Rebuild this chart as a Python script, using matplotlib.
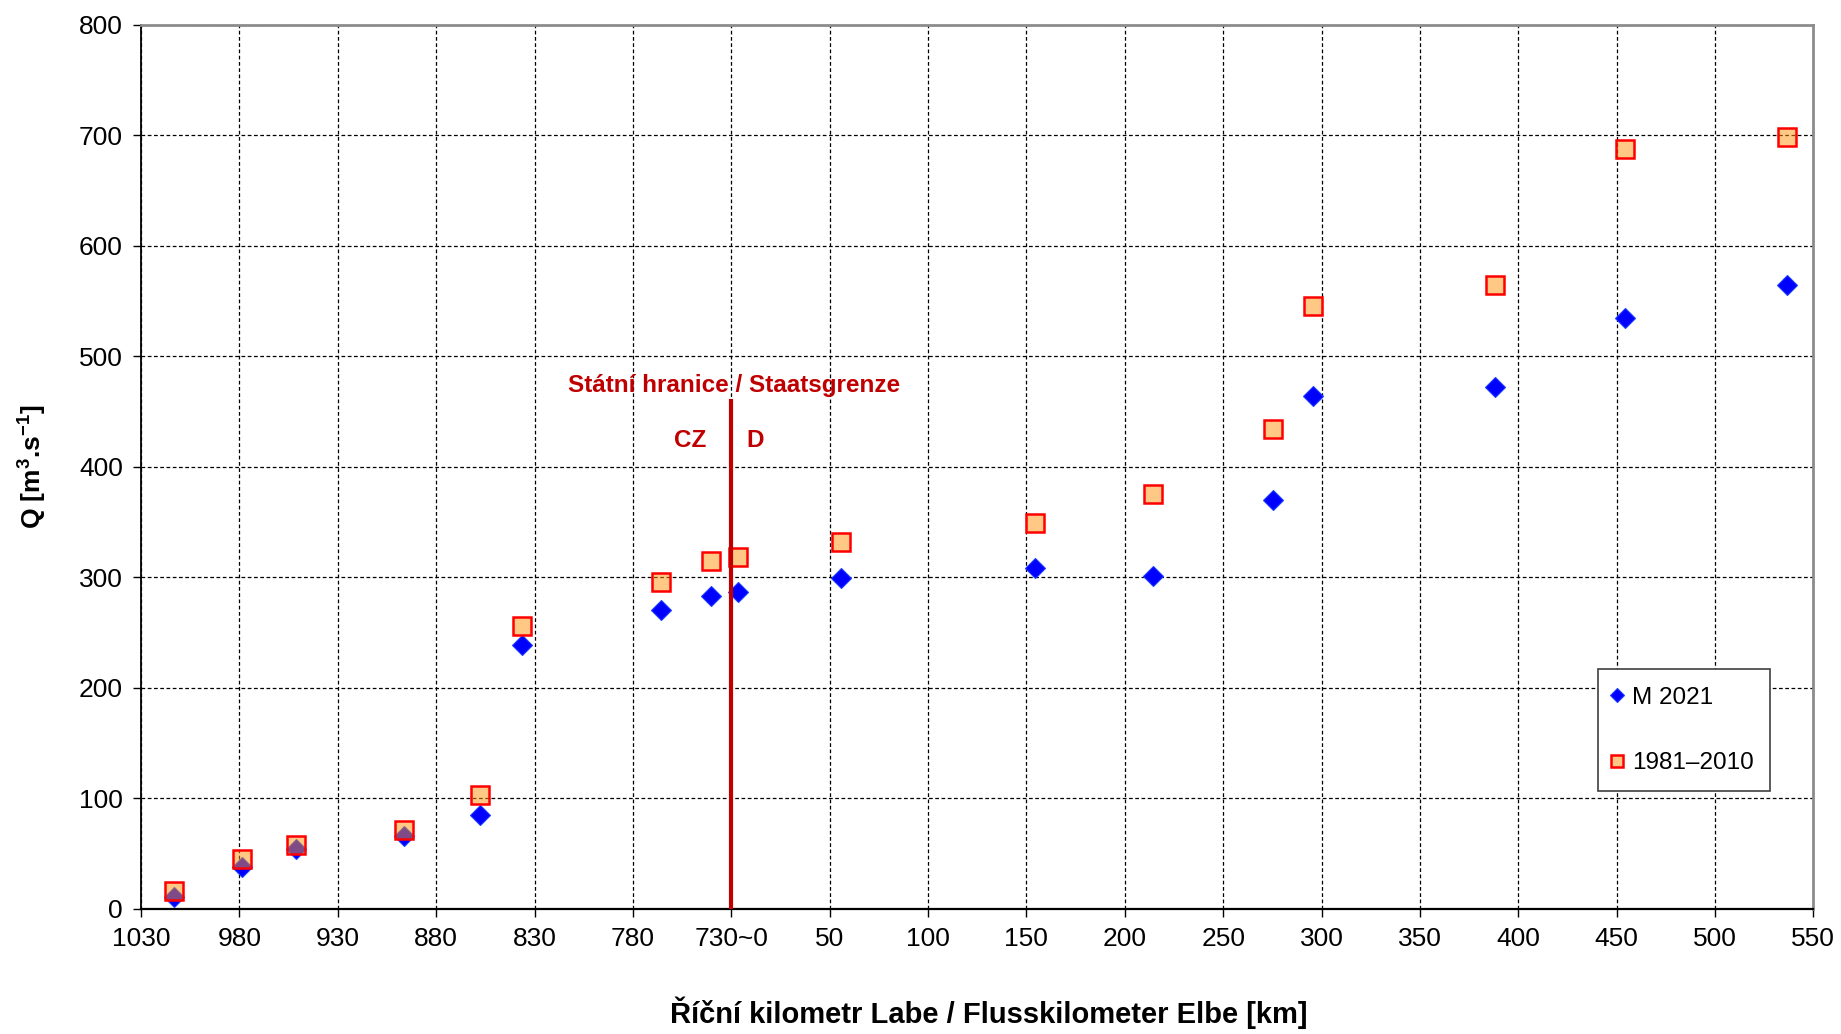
import matplotlib
matplotlib.use("Agg")
import matplotlib.pyplot as plt

plt.rcParams['font.family'] = ['Liberation Sans', 'DejaVu Sans']
plt.rcParams['mathtext.fontset'] = 'custom'
plt.rcParams['mathtext.rm'] = 'Liberation Sans:bold'
plt.rcParams['mathtext.bf'] = 'Liberation Sans:bold'

# Czech part (Labe km, counted downstream to the border at 730)
cz_km = [1013, 978.5, 951.3, 896.5, 857.5, 836.6, 765.8, 740.5]
# German part (Elbe km, from the border)
de_km = [3.4, 55.6, 154.5, 214.2, 275.3, 295.9, 388.2, 454.5, 536.8]

q_m2021 = [11, 38, 54, 66, 85, 239, 270.5, 283.5,
           286.5, 299.4, 308.7, 301.5, 370, 464, 472, 534.4, 564.3]
q_1981_2010 = [16.4, 45.5, 58, 71.5, 103, 256, 295.5, 315,
               318, 331.6, 349.6, 375, 433.8, 546, 564.8, 687.8, 698.5]

tick_labels = ['1030', '980', '930', '880', '830', '780', '730~0',
               '50', '100', '150', '200', '250', '300', '350', '400', '450', '500', '550']

cz_start = 1030
border_km = 730
border_top = 460

# continuous axis: 0 at CZ km 1030, border at 300, then German km added
x_pos = [cz_start - k for k in cz_km] + [(cz_start - border_km) + k for k in de_km]
border_pos = cz_start - border_km

fig = plt.figure(figsize=(18.41, 10.34), dpi=100)
ax = fig.add_axes([0.0766, 0.121, 0.9084, 0.855])

ax.plot(x_pos, q_m2021, linestyle='none', marker='D', markersize=10,
        color='#0000FF', markeredgecolor='#1a3cff', markeredgewidth=0.8, zorder=3, label='M 2021')
ax.plot(x_pos, q_1981_2010, linestyle='none', marker='s', markersize=12.5,
        markerfacecolor=(1.0, 0.58, 0.05, 0.5), markeredgecolor='#FF0000', markeredgewidth=1.8,
        zorder=4, label='1981–2010')

# state border line
ax.plot([border_pos, border_pos], [0, border_top], color='#C00000', linewidth=3, zorder=5)
ax.text(border_pos + 1.5, 474, 'Státní hranice / Staatsgrenze', color='#C00000',
        fontsize=17.5, fontweight='bold', ha='center', va='center', zorder=6)
ax.text(border_pos - 21, 424, 'CZ', color='#C00000', fontsize=17.5, fontweight='bold',
        ha='center', va='center', zorder=6)
ax.text(border_pos + 12, 424, 'D', color='#C00000', fontsize=17.5, fontweight='bold',
        ha='center', va='center', zorder=6)

ax.set_xlim(0, 850)
ax.set_ylim(0, 800)
ax.set_xticks(range(0, 851, 50))
ax.set_xticklabels(tick_labels)
ax.set_yticks(range(0, 801, 100))

ax.tick_params(axis='both', direction='out', length=6, width=1, labelsize=19, pad=7)

ax.grid(True, linestyle=(0, (3, 2)), linewidth=0.9, color='black')
ax.set_axisbelow(True)

ax.spines['left'].set_color('black')
ax.spines['bottom'].set_color('black')
ax.spines['left'].set_linewidth(1.3)
ax.spines['bottom'].set_linewidth(1.6)
ax.spines['top'].set_color('#8c8c8c')
ax.spines['right'].set_color('#8c8c8c')
ax.spines['top'].set_linewidth(2)
ax.spines['right'].set_linewidth(2)

ax.set_xlabel('Říční kilometr Labe / Flusskilometer Elbe [km]', fontsize=21,
              fontweight='bold', labelpad=33)
ax.xaxis.label.set_x(0.507)
ax.set_ylabel(r'Q [m$^{\mathbf{3}}$.s$^{\mathbf{-1}}$]', fontsize=19, fontweight='bold', labelpad=22)

leg = ax.legend(loc='lower left', bbox_to_anchor=(0.871, 0.133), fontsize=17.5,
                labelspacing=1.8, handlelength=0.2, handletextpad=0.5, borderpad=0.7,
                markerscale=0.74, fancybox=False, framealpha=1, edgecolor='#404040',
                borderaxespad=0)
leg.get_frame().set_linewidth(1.2)

fig.savefig('out.png', dpi=100)
